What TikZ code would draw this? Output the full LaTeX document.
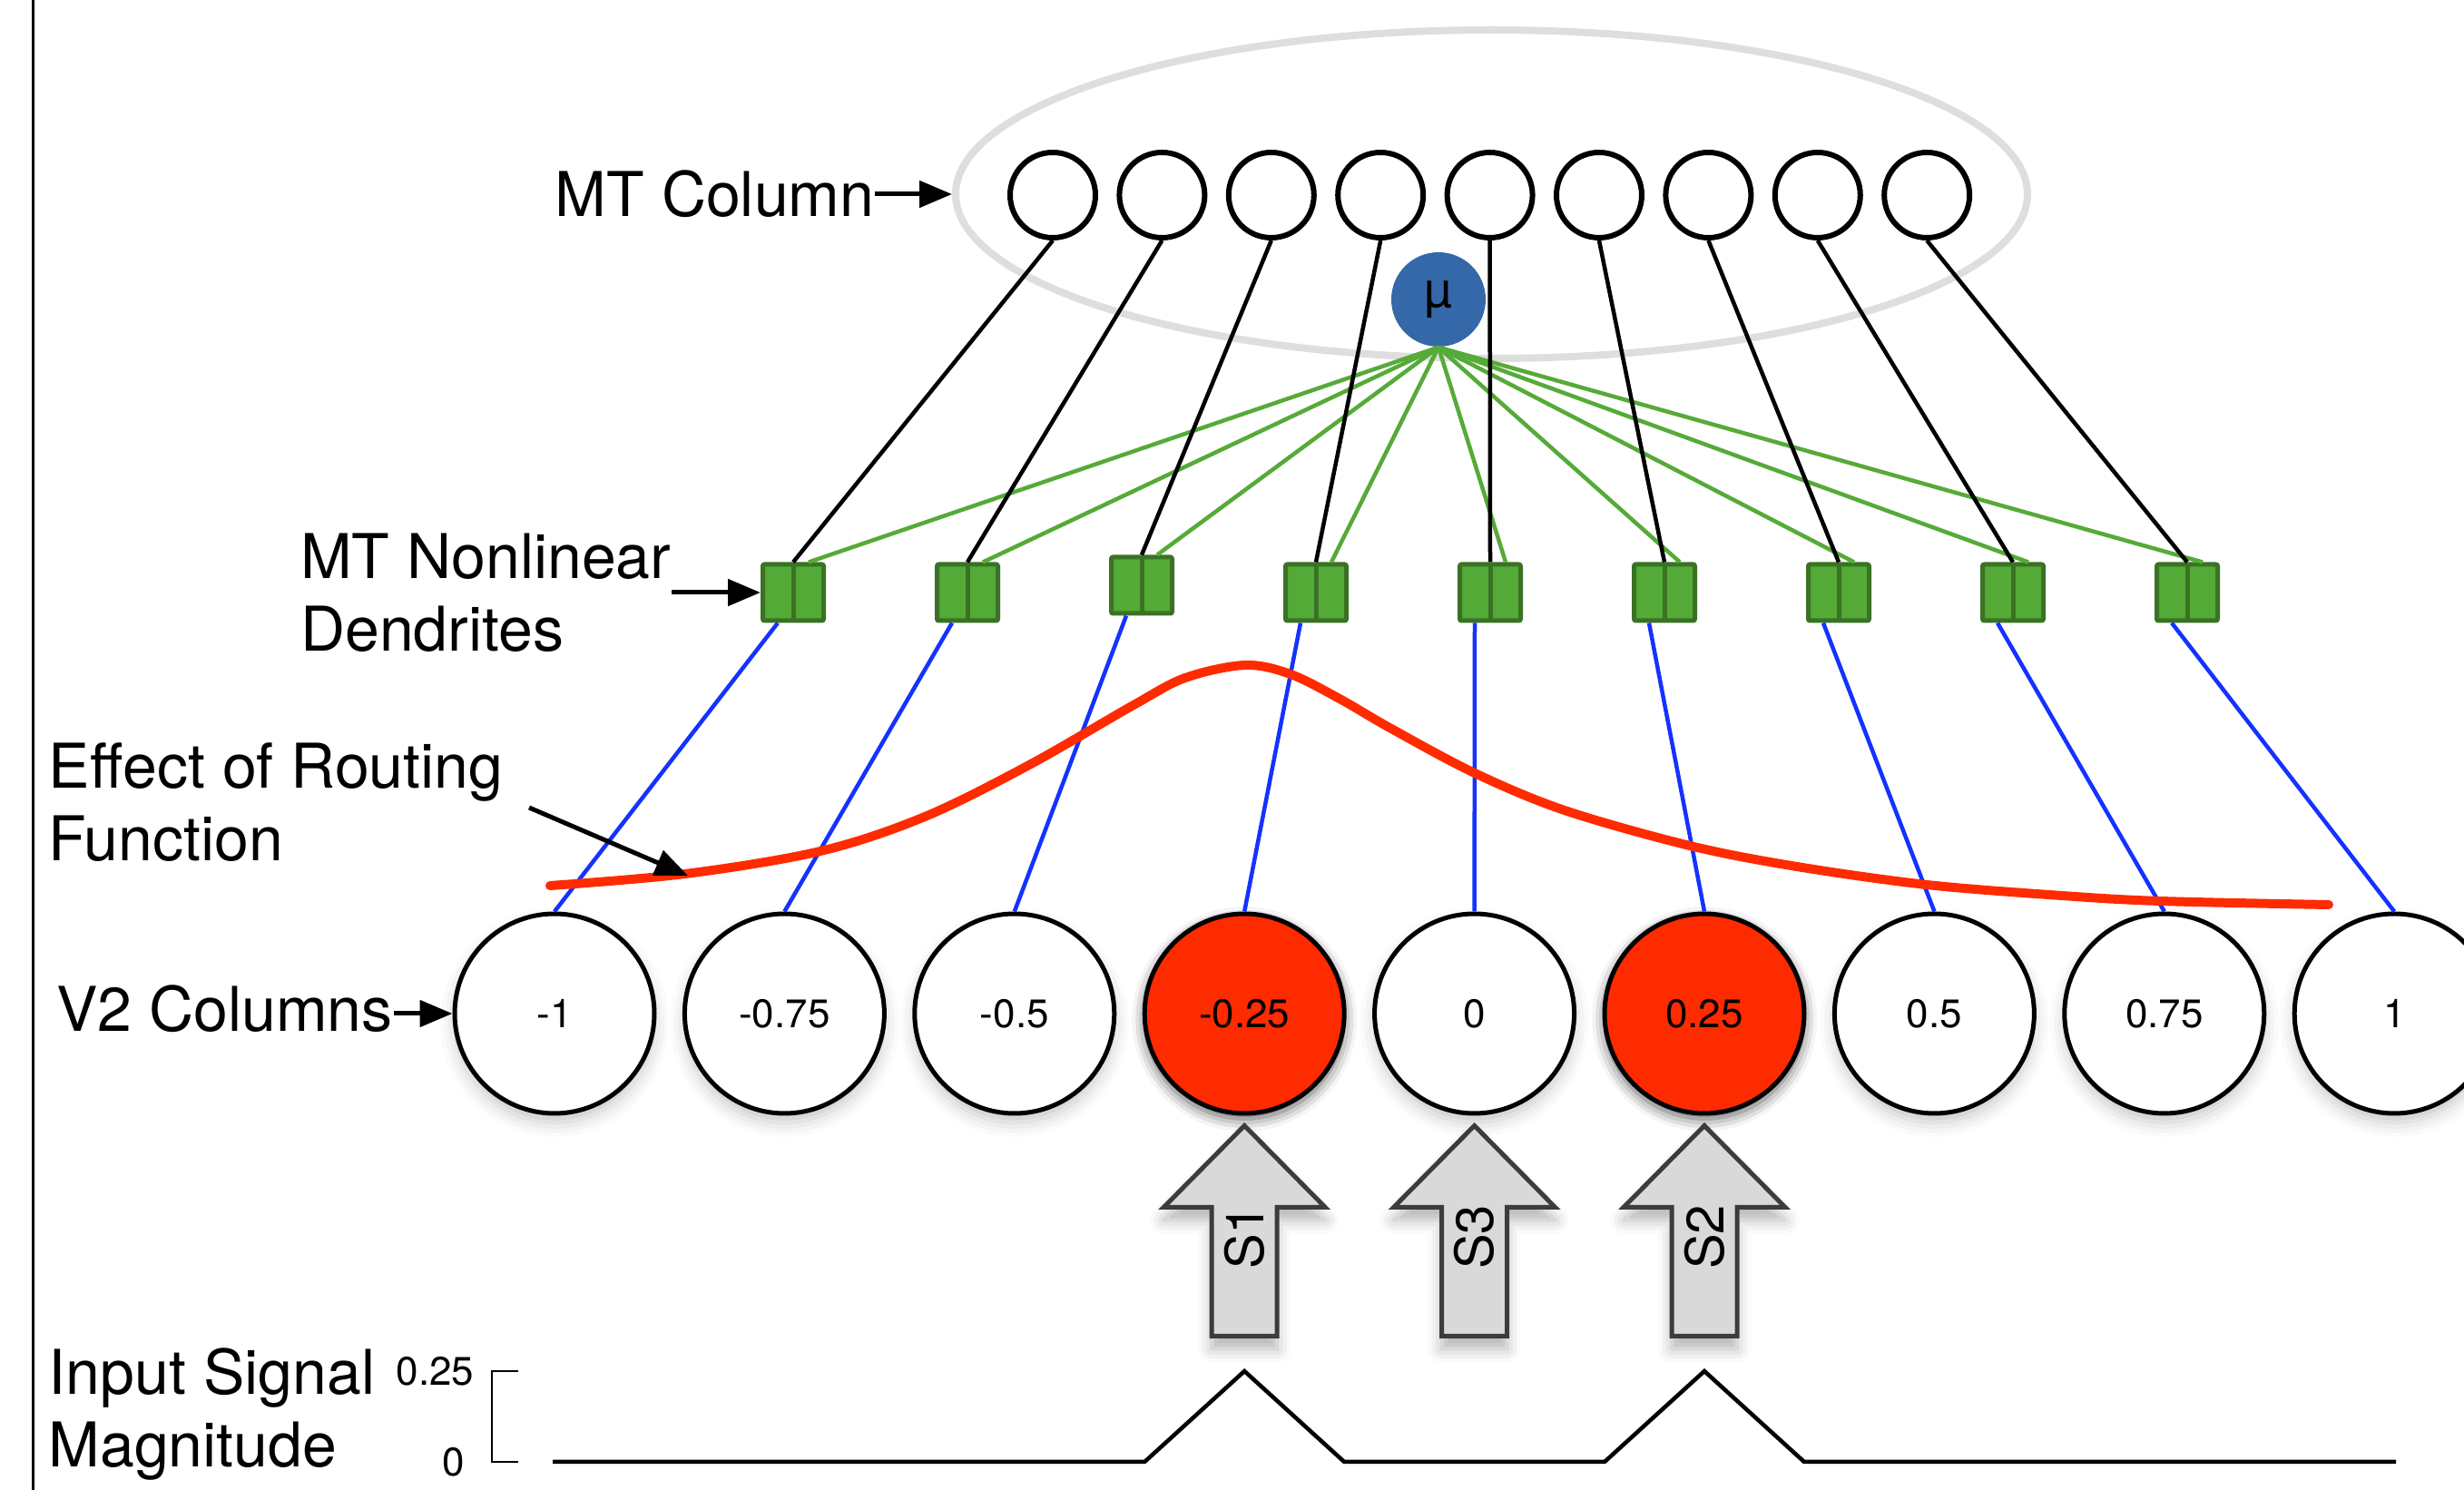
\documentclass[tikz,border=0pt]{standalone}
\usepackage{fontspec}
\setmainfont{TeX Gyre Heros}
\usepackage{tikz}
\usetikzlibrary{shapes,arrows,positioning}
\usetikzlibrary{arrows.meta}
\usetikzlibrary{calc,shadows.blur}

\definecolor{hotred}{RGB}{255,43,0}
\definecolor{feedblue}{RGB}{20,50,255}
\definecolor{gatelines}{RGB}{86,170,56}
\definecolor{dendfill}{RGB}{84,170,54}
\definecolor{dendedge}{RGB}{58,114,36}
\definecolor{mublue}{RGB}{52,104,168}
\definecolor{ringgray}{RGB}{222,222,222}
\definecolor{arrowgray}{RGB}{217,217,217}
\definecolor{arrowedge}{RGB}{60,60,60}

\pgfdeclareradialshading{v2glow}{\pgfpoint{0bp}{0bp}}{color(0bp)=(white); color(30bp)=(white); color(50bp)=(black!13)}

\begin{document}
\begin{tikzpicture}[
  big_font/.style={font=\fontsize{19.35}{22.8}\selectfont},
  small_font/.style={font=\fontsize{12.5}{15}\selectfont},
  label_text/.style={big_font, inner sep=0pt, align=left},
  mt_style/.style={circle, draw=black, line width=0.06cm, fill=white, minimum size=0.94cm, inner sep=0pt},
  v2_base/.style={circle, draw=black, line width=0.05cm, minimum size=2.2cm, inner sep=0pt, small_font},
  v2_style/.style={v2_base, shading=v2glow,
    blur shadow={shadow xshift=0cm, shadow yshift=-0.1cm, shadow blur radius=0.16cm, shadow opacity=22}},
  v2_hot/.style={v2_base, fill=hotred,
    blur shadow={shadow xshift=0cm, shadow yshift=-0.06cm, shadow blur radius=0.14cm, shadow opacity=65}},
  dend_style/.style={rectangle, draw=dendedge, fill=dendfill, line width=0.05cm, rounded corners=0.02cm,
    minimum width=0.67cm, minimum height=0.62cm, inner sep=0pt,
    path picture={\draw[dendedge, line width=0.05cm] (path picture bounding box.north) -- (path picture bounding box.south);}},
  axon_line/.style={draw=black, line width=0.045cm},
  gate_line/.style={draw=gatelines, line width=0.045cm},
  feed_line/.style={draw=feedblue, line width=0.045cm},
  routing_curve/.style={draw=hotred, line width=0.1cm, line cap=round},
  pointer/.style={draw=black, line width=0.05cm, -{Triangle[length=0.36cm,width=0.29cm]}},
  signal_arrow/.style={draw=arrowedge, fill=arrowgray, line width=0.05cm,
    blur shadow={shadow xshift=0cm, shadow yshift=-0.14cm, shadow blur radius=0.15cm, shadow opacity=30}},
  signal_text/.style={rotate=90, font=\fontsize{16.5}{18}\selectfont, inner sep=0pt},
  trace_line/.style={draw=black, line width=0.045cm},
  scale_line/.style={draw=black, line width=0.02cm}]

  \useasboundingbox (0,0) rectangle (27.15,16.42);
  \draw[line width=0.03cm] (0.36,0) -- (0.36,16.42);

  % MT column
  \node (ring) [ellipse, draw=ringgray, line width=0.08cm, minimum width=11.81cm, minimum height=3.62cm] at (16.435,14.28) {};
  \foreach \i in {1,...,9}
    \node (m\i) [mt_style] at ({11.60+1.204*(\i-1)},14.27) {};
  \node (mu) [circle, fill=mublue, minimum size=1.04cm, inner sep=0pt, font=\fontsize{15.6}{18}\selectfont] at (15.85,13.12) {µ};

  % dendrites
  \foreach \i/\dy in {1/0,2/0,3/0.08,4/0,5/0,6/0,7/0,8/0,9/0}
    \node (d\i) [dend_style] at ({8.74+1.92*(\i-1)},9.89+\dy) {};
  \foreach \i in {1,...,9}
    \draw[gate_line] (mu.south) -- ($(d\i.north)+(0.17,0)$);
  \foreach \i in {1,...,9}
    \draw[axon_line] (m\i.south) -- (d\i.north);

  % V2 columns
  \foreach \lab/\kind [count=\i] in {-1/v2_style,-0.75/v2_style,-0.5/v2_style,-0.25/v2_hot,0/v2_style,0.25/v2_hot,0.5/v2_style,0.75/v2_style,1/v2_style}
    \node (v\i) [\kind] at ({6.11+2.534*(\i-1)},5.25) {\lab};
  \foreach \i in {1,...,9}
    \draw[feed_line] ($(d\i.south)+(-0.17,0)$) -- (v\i.north);

  \draw[routing_curve] plot[smooth, tension=0.55] coordinates {(6.06,6.66) (7.55,6.79) (9.04,7.04) (10.19,7.42) (11.34,7.99) (12.49,8.65) (13.06,8.95) (13.72,9.09) (14.22,8.99) (14.76,8.72) (15.33,8.39) (16.25,7.90) (17.24,7.49) (18.62,7.10) (19.80,6.87) (21.23,6.67) (22.72,6.55) (23.80,6.49) (25.66,6.45)};
  \coordinate (hit) at (7.58,6.77);

  % labels
  \node (mtlabel) [label_text, left=0.85cm of ring] {MT Column};
  \draw[pointer] (mtlabel.east) -- (ring.west);
  \node (dendlabel) [label_text, left=0.98cm of d1] {MT Nonlinear\\Dendrites};
  \draw[pointer] (dendlabel.east) -- (d1.west);
  \node (routelabel) [label_text, anchor=west] at (0.53,7.58) {Effect of Routing\\Function};
  \draw[pointer] ($(routelabel.east)+(0.28,-0.06)$) -- (hit);
  \node (v2label) [label_text, left=0.65cm of v1, yshift=0.05cm] {V2 Columns};
  \draw[pointer] (v2label.east |- v1.west) -- (v1.west);
  \node (inputlabel) [label_text, anchor=west] at (0.53,0.835) {Input Signal\\Magnitude};

  % inputs
  \foreach \c/\t in {v4/S1,v5/S3,v6/S2} {
    \draw[signal_arrow] ($(\c.south)+(0,-0.11)$) -- ++(-0.89,-0.90) -- ++(0.53,0) -- ++(0,-1.42)
      -- ++(0.72,0) -- ++(0,1.42) -- ++(0.53,0) -- cycle;
    \node (\t) [signal_text] at ($(\c.south)+(0,-1.34)$) {\t};
  }

  \coordinate (hi) at (5.42,1.31);
  \coordinate (lo) at (5.42,0.31);
  \draw[scale_line] ($(hi)+(0.29,0)$) -- (hi) -- (lo) -- ($(lo)+(0.29,0)$);
  \node (hilab) [small_font, anchor=east, inner sep=0pt] at ($(hi)+(-0.19,0)$) {0.25};
  \node (lolab) [small_font, anchor=east, inner sep=0pt] at ($(lo)+(-0.29,0)$) {0};
  \draw[trace_line] ($(lo)+(0.67,0)$) -- ($(v4|-lo)+(-1.10,0)$) -- (v4|-hi) -- ($(v4|-lo)+(1.10,0)$)
    -- ($(v6|-lo)+(-1.10,0)$) -- (v6|-hi) -- ($(v6|-lo)+(1.10,0)$) -- (26.40,0.31);
\end{tikzpicture}
\end{document}
